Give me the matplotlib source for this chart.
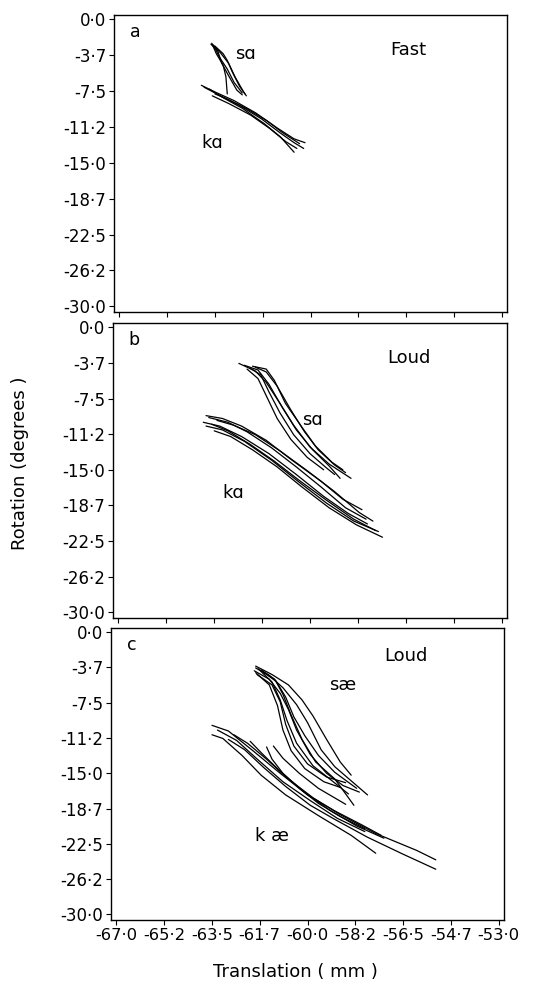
import matplotlib
matplotlib.use("Agg")
import matplotlib.pyplot as plt

# ---------------- data ----------------
x_ticks = [-67.0, -65.25, -63.5, -61.75, -60.0, -58.25, -56.5, -54.75, -53.0]
x_tick_labels = ['-67·0', '-65·2', '-63·5', '-61·7', '-60·0', '-58·2', '-56·5', '-54·7', '-53·0']
y_ticks = [0.0, -3.75, -7.5, -11.25, -15.0, -18.75, -22.5, -26.25, -30.0]
y_tick_labels = ['0·0', '-3·7', '-7·5', '-11·2', '-15·0', '-18·7', '-22·5', '-26·2', '-30·0']

# Panel a (Fast): sa and ka trajectories (translation mm, rotation deg)
a_sa = [
    [(-63.62, -2.5), (-63.45, -3.6), (-63.2, -4.8), (-63.1, -6.0), (-63.05, -7.8)],
    [(-63.6, -2.6), (-63.3, -3.5), (-63.0, -4.6), (-62.75, -6.1), (-62.45, -7.6), (-62.35, -8.0)],
    [(-63.55, -2.7), (-63.35, -3.9), (-63.05, -5.2), (-62.8, -6.6), (-62.5, -7.7)],
    [(-63.5, -2.8), (-63.2, -3.6), (-63.05, -4.3), (-62.85, -5.6), (-62.6, -7.0), (-62.4, -7.8)],
    [(-63.65, -2.6), (-63.4, -3.3), (-63.25, -4.6), (-63.0, -5.9), (-62.7, -7.4), (-62.5, -7.9)],
]
a_ka = [
    [(-64.0, -6.9), (-63.5, -7.6), (-62.8, -8.5), (-62.0, -9.8), (-61.2, -11.4), (-60.6, -12.5), (-60.2, -12.9)],
    [(-63.9, -7.1), (-63.3, -8.0), (-62.6, -9.0), (-61.8, -10.4), (-61.1, -11.9), (-60.6, -12.9), (-60.25, -13.5)],
    [(-63.7, -7.3), (-63.2, -8.2), (-62.5, -9.3), (-61.7, -10.9), (-61.1, -12.3), (-60.6, -13.9)],
    [(-63.5, -7.8), (-63.0, -8.4), (-62.3, -9.4), (-61.6, -10.6), (-61.0, -11.9), (-60.4, -13.0)],
    [(-63.6, -8.0), (-63.0, -8.8), (-62.2, -10.0), (-61.5, -11.4), (-60.9, -12.8), (-60.5, -13.5)],
]

# Panel b (Loud): sa and ka
b_sa = [
    [(-62.6, -3.8), (-62.0, -4.6), (-61.6, -5.8), (-61.1, -8.0), (-60.6, -10.3), (-60.0, -12.6), (-59.3, -14.4), (-58.5, -15.9)],
    [(-62.4, -4.0), (-61.9, -4.5), (-61.5, -6.0), (-61.0, -8.5), (-60.5, -10.8), (-59.9, -12.9), (-59.3, -14.6), (-58.9, -15.9)],
    [(-62.2, -4.3), (-61.8, -5.0), (-61.5, -6.8), (-61.1, -9.0), (-60.6, -11.3), (-60.0, -13.3), (-59.4, -14.8), (-59.1, -15.5)],
    [(-62.0, -4.2), (-61.6, -4.7), (-61.2, -6.2), (-60.7, -8.7), (-60.2, -11.0), (-59.7, -12.9), (-59.1, -14.5), (-58.7, -15.3)],
    [(-62.3, -4.4), (-61.9, -5.4), (-61.6, -7.2), (-61.2, -9.6), (-60.7, -11.8), (-60.1, -13.7), (-59.5, -15.0)],
    [(-62.1, -4.1), (-61.6, -4.4), (-61.3, -5.6), (-60.9, -8.0), (-60.3, -10.5), (-59.8, -12.5), (-59.2, -14.2), (-58.8, -15.0)],
]
b_ka = [
    [(-63.8, -9.3), (-63.2, -9.6), (-62.5, -10.4), (-61.6, -11.9), (-60.7, -13.9), (-59.6, -16.2), (-58.8, -18.1), (-58.1, -19.2)],
    [(-63.7, -9.5), (-63.0, -10.0), (-62.3, -11.0), (-61.4, -12.7), (-60.5, -14.7), (-59.6, -16.8), (-58.7, -19.0), (-57.95, -20.2)],
    [(-63.9, -10.0), (-63.3, -10.4), (-62.5, -11.5), (-61.5, -13.3), (-60.5, -15.5), (-59.5, -17.8), (-58.6, -19.6), (-57.9, -20.7)],
    [(-63.8, -10.4), (-63.2, -10.8), (-62.4, -12.0), (-61.4, -14.0), (-60.4, -16.3), (-59.4, -18.5), (-58.4, -20.4), (-57.5, -21.5)],
    [(-63.5, -10.9), (-62.9, -11.5), (-62.1, -12.9), (-61.2, -14.7), (-60.3, -16.8), (-59.3, -19.0), (-58.3, -20.8), (-57.35, -22.1)],
    [(-63.6, -10.2), (-63.0, -10.9), (-62.2, -12.3), (-61.3, -14.1), (-60.4, -16.1), (-59.4, -18.2), (-58.4, -20.2), (-57.6, -21.4)],
    [(-63.4, -9.8), (-62.8, -10.3), (-62.0, -11.3), (-61.1, -13.0), (-60.1, -15.1), (-59.1, -17.3), (-58.2, -19.5), (-57.7, -20.4)],
]

# Panel c (Loud): sae and kae
c_sae = [
    [(-61.9, -3.6), (-61.3, -4.5), (-60.7, -5.6), (-60.2, -7.2), (-59.8, -8.9), (-59.3, -11.4), (-58.8, -13.8), (-58.4, -15.2)],
    [(-61.9, -3.8), (-61.4, -4.6), (-60.9, -5.9), (-60.4, -7.7), (-60.0, -9.6), (-59.5, -12.5), (-59.0, -14.3), (-58.4, -15.8), (-57.8, -17.3)],
    [(-61.95, -4.1), (-61.4, -5.0), (-61.0, -6.5), (-60.7, -8.2), (-60.4, -10.4), (-59.9, -13.0), (-59.3, -15.0), (-58.7, -16.3), (-58.1, -17.0)],
    [(-61.8, -3.9), (-61.3, -5.3), (-61.0, -7.2), (-60.75, -9.4), (-60.4, -11.8), (-59.8, -14.2), (-59.1, -15.8), (-58.5, -17.2)],
    [(-61.9, -4.3), (-61.4, -5.6), (-61.1, -7.8), (-60.9, -10.4), (-60.6, -12.6), (-60.1, -14.5), (-59.4, -15.9), (-58.8, -16.5)],
    [(-61.7, -4.0), (-61.2, -5.0), (-60.9, -6.6), (-60.6, -8.8), (-60.2, -11.4), (-59.7, -13.8), (-59.0, -15.6), (-58.3, -18.4)],
    [(-61.85, -4.5), (-61.3, -5.6), (-61.0, -7.4), (-60.8, -9.8), (-60.5, -12.1), (-60.0, -14.0), (-59.3, -15.4), (-58.6, -16.0)],
    [(-61.6, -4.3), (-61.15, -5.2), (-60.8, -6.9), (-60.5, -9.0), (-60.1, -11.0), (-59.6, -13.1), (-59.0, -14.9), (-58.2, -16.6)],
]
c_kae = [
    [(-63.5, -9.9), (-62.9, -10.5), (-62.0, -12.6), (-61.0, -15.0), (-60.0, -17.3), (-59.0, -19.0), (-58.0, -20.5), (-57.3, -21.6)],
    [(-63.5, -10.9), (-63.1, -11.3), (-62.4, -13.1), (-61.7, -15.2), (-60.8, -17.3), (-59.6, -19.5), (-58.4, -21.6), (-57.5, -23.5)],
    [(-62.7, -10.9), (-62.2, -11.8), (-61.5, -13.5), (-60.7, -15.6), (-59.8, -17.6), (-58.8, -19.4), (-57.5, -21.4), (-56.0, -23.2), (-55.3, -24.2)],
    [(-62.9, -11.4), (-62.3, -12.5), (-61.6, -14.4), (-60.8, -16.4), (-59.9, -18.4), (-59.0, -19.9), (-57.8, -21.8), (-56.5, -23.6), (-55.3, -25.2)],
    [(-61.5, -12.2), (-61.3, -13.5), (-60.9, -15.0), (-60.3, -16.6), (-59.6, -18.2), (-58.8, -19.6), (-57.9, -20.9)],
    [(-61.25, -12.1), (-60.9, -13.4), (-60.3, -15.0), (-59.6, -16.6), (-58.6, -18.3)],
    [(-62.1, -11.6), (-61.7, -12.8), (-61.0, -14.8), (-60.2, -16.8), (-59.2, -18.9), (-58.2, -20.6), (-57.2, -21.9)],
    [(-63.3, -10.4), (-62.6, -11.5), (-61.8, -13.6), (-60.9, -15.9), (-59.9, -17.9), (-58.9, -19.8), (-57.9, -21.2)],
]

# ---------------- figure ----------------
plt.rcParams['font.family'] = ['DejaVu Sans']
fig = plt.figure(figsize=(5.39, 9.85), dpi=100)

W, H = 539.0, 985.0
panels = [
    # (left, top, right, bottom) in px
    (114, 15, 507, 312),
    (113, 323, 507, 618),
    (111, 628, 504, 920),
]
curves = [(a_sa, a_ka), (b_sa, b_ka), (c_sae, c_kae)]
letters = ['a', 'b', 'c']
conds = ['Fast', 'Loud', 'Loud']
lab1 = [('sɑ', -62.4, -3.6), ('sɑ', -59.9, -9.8), ('sæ', -58.7, -5.6)]
lab2 = [('kɑ', -63.6, -12.9), ('kɑ', -62.8, -17.4), ('k æ', -61.3, -21.7)]
cond_y = [0.882, 0.88, 0.904]

for i, (l, t, r, b) in enumerate(panels):
    ax = fig.add_axes([l / W, 1 - b / H, (r - l) / W, (b - t) / H])
    for group in curves[i]:
        for tok in group:
            xs = [p[0] for p in tok]
            ys = [p[1] for p in tok]
            ax.plot(xs, ys, color='black', lw=0.9, solid_capstyle='round')
    ax.set_xlim(-67.2, -52.8)
    ax.set_ylim(-30.6, 0.45)
    ax.set_xticks(x_ticks)
    ax.set_yticks(y_ticks)
    ax.set_yticklabels(y_tick_labels, fontsize=12)
    if i == 2:
        ax.set_xticklabels(x_tick_labels, fontsize=11.8)
    else:
        ax.set_xticklabels([])
    ax.tick_params(direction='out', length=3.5, width=0.8, pad=2)
    for s in ax.spines.values():
        s.set_linewidth(1.0)
    ax.text(0.054, 0.942, letters[i], transform=ax.transAxes, fontsize=12.5,
            ha='center', va='center')
    ax.text(0.75, cond_y[i], conds[i], transform=ax.transAxes, fontsize=13,
            ha='center', va='center')
    ax.text(lab1[i][1], lab1[i][2], lab1[i][0], fontsize=13, ha='center', va='center')
    ax.text(lab2[i][1], lab2[i][2], lab2[i][0], fontsize=13, ha='center', va='center')

fig.text(0.037, 1 - 463 / H, 'Rotation (degrees )', rotation=90, fontsize=13,
         ha='center', va='center')
fig.text(295 / W, 1 - 972 / H, 'Translation ( mm )', fontsize=13,
         ha='center', va='center')

fig.savefig('out.png', dpi=100, facecolor='white')
